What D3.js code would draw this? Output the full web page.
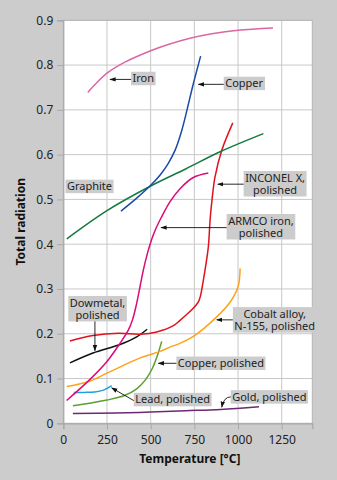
<!DOCTYPE html>
<html><head><meta charset="utf-8">
<script src="https://cdn.jsdelivr.net/npm/d3@7"></script>
<style>
body{margin:0;background:#cccccc;}
svg{display:block;font-family:"Noto Sans",sans-serif;}
</style>
</head><body>
<svg id="chart" width="337" height="480"></svg>
<script>
// ---- data ----
const xTicks = [0, 250, 500, 750, 1000, 1250];
const yTicks = [0, 0.1, 0.2, 0.3, 0.4, 0.5, 0.6, 0.7, 0.8, 0.9];
const xTitle = "Temperature [°C]";
const yTitle = "Total radiation";

const iron = [[140,0.739],[180,0.756],[250,0.782],[350,0.806],[500,0.832],[600,0.846],[725,0.860],[850,0.870],[1000,0.878],[1200,0.883]];
const copper = [[330,0.474],[420,0.503],[496,0.530],[553,0.554],[600,0.580],[640,0.610],[675,0.650],[705,0.695],[742,0.755],[786,0.820]];
const graphite = [[20,0.412],[250,0.475],[500,0.530],[700,0.568],[900,0.607],[1145,0.647]];
const armco = [[19,0.051],[150,0.097],[250,0.138],[325,0.179],[372,0.208],[396,0.231],[420,0.268],[439,0.305],[458,0.342],[481,0.379],[505,0.410],[530,0.435],[560,0.459],[611,0.495],[668,0.524],[744,0.549],[830,0.559]];
const inconel = [[38,0.184],[170,0.196],[315,0.201],[440,0.199],[535,0.204],[630,0.218],[668,0.230],[706,0.243],[744,0.257],[773,0.271],[786,0.286],[797,0.309],[811,0.342],[830,0.394],[840,0.454],[850,0.495],[868,0.550],[907,0.610],[970,0.671]];
const dowmetal = [[38,0.135],[170,0.157],[325,0.176],[420,0.193],[480,0.210]];
const cobalt = [[20,0.082],[150,0.094],[250,0.112],[440,0.146],[550,0.160],[610,0.170],[670,0.179],[755,0.197],[860,0.231],[950,0.268],[1000,0.305],[1012,0.346]];
const copperPolished = [[55,0.039],[150,0.045],[250,0.052],[350,0.062],[420,0.077],[470,0.097],[510,0.123],[540,0.153],[563,0.183]];
const lead = [[60,0.069],[120,0.069],[180,0.070],[230,0.074],[277,0.084]];
const gold = [[55,0.022],[300,0.023],[500,0.025],[700,0.028],[900,0.031],[1120,0.037]];

const seriesData = [gold, lead, copperPolished, cobalt, dowmetal, inconel, armco, graphite, copper, iron];
const seriesColors = ["#6b2a72","#1ea2d9","#5c9e34","#ffa21a","#111111","#e0121c","#dc0a7a","#137a3e","#1a4aa8","#da67a2"];

// annotation labels (data coordinates of label centre and arrow tip)
const labelTexts = [["Iron"],["Copper"],["Graphite"],["INCONEL X,","polished"],["ARMCO iron,","polished"],["Dowmetal,","polished"],["Cobalt alloy,","N-155, polished"],["Copper, polished"],["Lead, polished"],["Gold, polished"]];
const labelAt = [[458,0.770],[1035,0.759],[150,0.529],[1212,0.535],[1131,0.439],[196,0.256],[1210,0.231],[902,0.134],[626,0.053],[1179,0.059]];
const arrowTip = [[267,0.768],[773,0.757],null,[884,0.534],[559,0.437],[181,0.162],[878,0.231],[544,0.134],[277,0.079],[907,0.036]];

// ---- layout ----
const W = 337, H = 480;
const m = {left:63.3, top:20.3, right:24.7, bottom:56.7};
const pw = W - m.left - m.right, ph = H - m.top - m.bottom;

const svg = d3.select("#chart");
const defs = svg.append("defs");
defs.append("marker").attr("id","ah").attr("viewBox","0 0 10 10").attr("refX",9).attr("refY",5)
  .attr("markerWidth",7).attr("markerHeight",7).attr("orient","auto-start-reverse")
  .append("path").attr("d","M0,1.5 L10,5 L0,8.5 Z").attr("fill","#111");

const x = d3.scaleLinear().domain([0,1425]).range([m.left, m.left+pw]);
const y = d3.scaleLinear().domain([0,0.9]).range([m.top+ph, m.top]);

svg.append("rect").attr("x",m.left).attr("y",m.top).attr("width",pw).attr("height",ph).attr("fill","#ffffff");

// grid
const g = svg.append("g");
g.selectAll(".vx").data(xTicks.slice(1)).join("line")
  .attr("x1",d=>x(d)).attr("x2",d=>x(d)).attr("y1",m.top).attr("y2",m.top+ph)
  .attr("stroke","#c8c8c8").attr("stroke-width",1);
g.selectAll(".hy").data(yTicks.slice(1)).join("line")
  .attr("x1",m.left).attr("x2",m.left+pw).attr("y1",d=>y(d)).attr("y2",d=>y(d))
  .attr("stroke","#c8c8c8").attr("stroke-width",1);

// frame
svg.append("rect").attr("x",m.left).attr("y",m.top).attr("width",pw).attr("height",ph)
  .attr("fill","none").attr("stroke","#b4b4b4").attr("stroke-width",1);

// axes
const xa = svg.append("g").attr("transform",`translate(0,${m.top+ph})`)
  .call(d3.axisBottom(x).tickValues(xTicks).tickSize(6).tickPadding(6).tickFormat(d3.format("d")));
const ya = svg.append("g").attr("transform",`translate(${m.left},0)`)
  .call(d3.axisLeft(y).tickValues(yTicks).tickSize(6).tickPadding(4).tickFormat(d=> d===0?"0":d3.format(".1f")(d)));
[xa,ya].forEach(a=>{
  a.select(".domain").attr("stroke","#a8a8a8").attr("stroke-width",1.2);
  a.selectAll(".tick line").attr("stroke","#a8a8a8");
  a.selectAll(".tick text").attr("fill","#222").style("font-size","12px").style("font-family","'Noto Sans',sans-serif");
});

svg.append("text").attr("x",m.left+pw/2+2).attr("y",462.5).attr("text-anchor","middle")
  .style("font-size","12px").style("font-weight","bold").attr("fill","#111").text(xTitle);
svg.append("text").attr("transform",`translate(24.5,${m.top+ph/2}) rotate(-90)`).attr("text-anchor","middle")
  .style("font-size","12px").style("font-weight","bold").attr("fill","#111").text(yTitle);

// curves
const line = d3.line().x(d=>x(d[0])).y(d=>y(d[1])).curve(d3.curveCatmullRom.alpha(0.5));
svg.append("g").selectAll("path").data(seriesData).join("path")
  .attr("d",line).attr("fill","none").attr("stroke",(d,i)=>seriesColors[i]).attr("stroke-width",1.5);

// labels
const lg = svg.append("g");
labelTexts.forEach((lines,i)=>{
  const cx = x(labelAt[i][0]), cy = y(labelAt[i][1]);
  const lh = 12;
  const grp = lg.append("g");
  const t = grp.append("text").attr("text-anchor","middle").style("font-size","11px").attr("fill","#222");
  lines.forEach((s,k)=>{
    t.append("tspan").attr("x",cx).attr("y",cy - (lines.length-1)*lh/2 + k*lh).attr("dy","0.35em").text(s);
  });
  const bb = t.node().getBBox();
  const padX = 1.5;
  const bh = lines.length*lh + 1.5;
  const bx = bb.x-padX, by = cy - bh/2, bw = bb.width+2*padX;
  grp.insert("rect","text").attr("x",bx).attr("y",by).attr("width",bw).attr("height",bh).attr("fill","#cccccc");
  const tip = arrowTip[i];
  if(tip){
    const tx = x(tip[0]), ty = y(tip[1]);
    let sx, sy;
    if(Math.abs(tx-cx) < 6){ sx = tx; sy = by+bh; }
    else if(tx < bx){ sx = bx; sy = (i===8)? by+bh/2+1 : (i===9? by+bh/2 : ty); }
    else { sx = bx+bw; sy = ty; }
    let d;
    if(i===9){ d = `M${sx},${sy} Q${sx-7},${sy} ${tx},${ty}`; }
    else d = `M${sx},${sy} L${tx},${ty}`;
    lg.append("path").attr("d",d).attr("fill","none").attr("stroke","#111").attr("stroke-width",0.9)
      .attr("marker-end","url(#ah)");
  }
});
</script>
</body></html>
